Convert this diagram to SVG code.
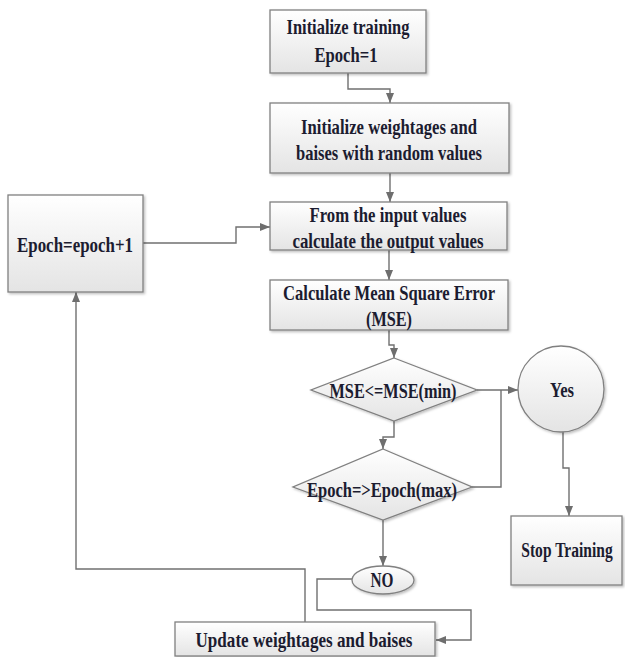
<svg xmlns="http://www.w3.org/2000/svg" width="625" height="657" viewBox="0 0 625 657">
<defs>
<linearGradient id="g" x1="0" y1="0" x2="0" y2="1">
<stop offset="0" stop-color="#ffffff"/>
<stop offset="1" stop-color="#e4e4e4"/>
</linearGradient>
<marker id="ah" markerUnits="userSpaceOnUse" markerWidth="10" markerHeight="10" viewBox="0 0 10 10" refX="10" refY="5" orient="auto">
<path d="M0,1 L10,5 L0,9 Z" fill="#6e6e6e"/>
</marker>
<filter id="sh" x="-10%" y="-10%" width="130%" height="130%">
<feDropShadow dx="1.5" dy="1.5" stdDeviation="1" flood-color="#000" flood-opacity="0.25"/>
</filter>
</defs>
<style>
.n{fill:url(#g);stroke:#808080;stroke-width:1.3;filter:url(#sh)}
.t{font-family:"Liberation Serif","Times New Roman",serif;font-weight:bold;font-size:21px;fill:#1c1c30;text-anchor:middle}
.c{fill:none;stroke:#707070;stroke-width:1.4}
.a{marker-end:url(#ah)}
</style>
<rect width="625" height="657" fill="#ffffff"/>
<g id="connectors">
<path class="c a" d="M348,73 V89 H390 V103"/>
<path class="c a" d="M390,173 V202"/>
<path class="c a" d="M143,243 H236 V227 H270"/>
<path class="c a" d="M389,250 V280"/>
<path class="c a" d="M389,330 V345 H394 V358"/>
<path class="c a" d="M477,390 H518"/>
<path class="c" d="M470,487 H501 V390"/>
<path class="c a" d="M394,421 V437 H383 V449"/>
<path class="c a" d="M563,432 V468 H569 V516"/>
<path class="c a" d="M383,520 V566"/>
<path class="c a" d="M352,579 H317 V610 H471 V640 H436"/>
<path class="c a" d="M305,622 V569 H76 V292"/>
</g>
<g id="init-training">
<rect class="n" x="270" y="10" width="156" height="63"/>
<text class="t" x="348" y="34" textLength="123" lengthAdjust="spacingAndGlyphs">Initialize training</text>
<text class="t" x="346" y="62" textLength="63" lengthAdjust="spacingAndGlyphs">Epoch=1</text>
</g>
<g id="init-weights">
<rect class="n" x="270" y="103" width="239" height="70"/>
<text class="t" x="389" y="134" textLength="176" lengthAdjust="spacingAndGlyphs">Initialize weightages and</text>
<text class="t" x="389" y="160" textLength="186" lengthAdjust="spacingAndGlyphs">baises with random values</text>
</g>
<g id="calc-output">
<rect class="n" x="270" y="202" width="237" height="48"/>
<text class="t" x="388" y="222" textLength="157" lengthAdjust="spacingAndGlyphs">From the input values</text>
<text class="t" x="388" y="248" textLength="191" lengthAdjust="spacingAndGlyphs">calculate the output values</text>
</g>
<g id="calc-mse">
<rect class="n" x="270" y="280" width="238" height="50"/>
<text class="t" x="389" y="300" textLength="212" lengthAdjust="spacingAndGlyphs">Calculate Mean Square Error</text>
<text class="t" x="389" y="326" textLength="46" lengthAdjust="spacingAndGlyphs">(MSE)</text>
</g>
<g id="epoch-inc">
<rect class="n" x="8" y="195" width="135" height="97"/>
<text class="t" x="75" y="252" textLength="116" lengthAdjust="spacingAndGlyphs">Epoch=epoch+1</text>
</g>
<g id="mse-check">
<polygon class="n" points="394,358 477,390 394,421 311,390"/>
<text class="t" x="393" y="398" textLength="127" lengthAdjust="spacingAndGlyphs">MSE&lt;=MSE(min)</text>
</g>
<g id="epoch-check">
<polygon class="n" points="383,449 472,487 383,520 293,487"/>
<text class="t" x="382" y="497" textLength="150" lengthAdjust="spacingAndGlyphs">Epoch=&gt;Epoch(max)</text>
</g>
<g id="yes">
<circle class="n" cx="561" cy="389" r="43"/>
<text class="t" x="562" y="397" textLength="24" lengthAdjust="spacingAndGlyphs">Yes</text>
</g>
<g id="stop">
<rect class="n" x="511" y="516" width="111" height="69"/>
<text class="t" transform="translate(567,557) scale(0.74,1)" x="0" y="0">Stop Training</text>
</g>
<g id="no">
<ellipse class="n" cx="383" cy="580" rx="31" ry="14"/>
<text class="t" x="382" y="587" textLength="23" lengthAdjust="spacingAndGlyphs">NO</text>
</g>
<g id="update">
<rect class="n" x="175" y="622" width="260" height="34"/>
<text class="t" x="304" y="647" textLength="217" lengthAdjust="spacingAndGlyphs">Update weightages and baises</text>
</g>
</svg>
